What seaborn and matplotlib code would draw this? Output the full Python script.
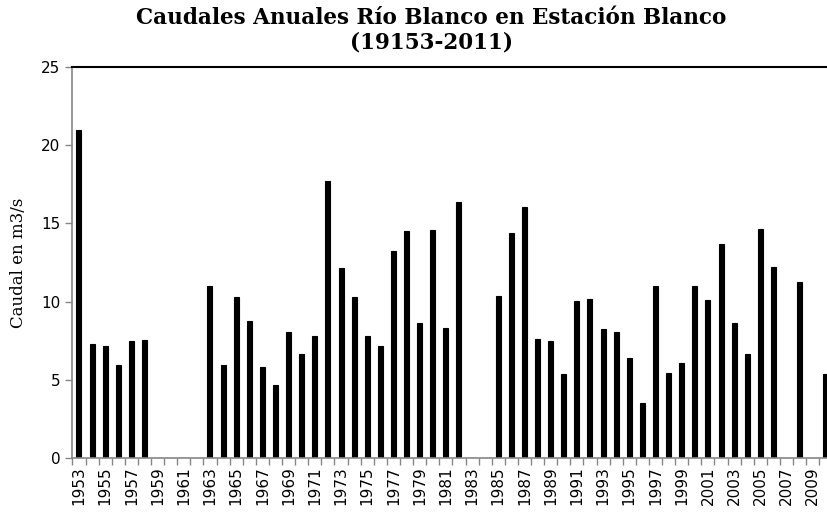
import matplotlib
matplotlib.use("Agg")
import matplotlib.pyplot as plt
import seaborn as sns
import pandas as pd
import numpy as np

# Annual flow values (0 = no data)
years = list(range(1953, 2011))
caudal = [
    21.0, 7.26, 7.15, 5.94, 7.49, 7.53,          # 1953-1958
    0, 0, 0, 0,                                  # 1959-1962
    11.02, 5.94, 10.3, 8.79, 5.79, 4.64, 8.04,   # 1963-1969
    6.66, 7.81, 17.74, 12.17, 10.3, 7.77, 7.17,  # 1970-1976
    13.23, 14.53, 8.66, 14.57, 8.34, 16.4,       # 1977-1982
    0, 0,                                        # 1983-1984
    10.38, 14.38, 16.08, 7.61, 7.45,             # 1985-1989
    5.40, 10.04, 10.19, 8.28, 8.07, 6.40, 3.53,  # 1990-1996
    11.02, 5.45, 6.08, 11.0, 10.08, 13.7, 8.66,  # 1997-2003
    6.68, 14.66, 12.19, 0, 11.23, 0, 5.40,       # 2004-2010
]

data = pd.DataFrame({'Año': [str(y) for y in years], 'Caudal': caudal})

sns.set_style("white")
plt.rcParams['text.color'] = 'black'
plt.rcParams['xtick.color'] = 'black'
plt.rcParams['ytick.color'] = 'black'

fig = plt.figure(figsize=(8.27, 5.17), dpi=100)
ax = fig.add_axes([72.4 / 827, 59 / 517, 760 / 827, 391 / 517])

sns.barplot(data=data, x='Año', y='Caudal', color='black', width=0.38,
            edgecolor='black', linewidth=0.8, saturation=1, ax=ax)

ax.set_xlim(-0.5, len(years) - 0.5)
ax.set_ylim(0, 25)
ax.set_yticks([0, 5, 10, 15, 20, 25])

# x labels every other year, tick marks at category boundaries
n = len(years)
ax.set_xticks(np.arange(0, n, 2))
ax.set_xticklabels([str(y) for y in years[::2]], rotation=90,
                   fontsize=11, family='DejaVu Sans')
ax.set_xticks(np.arange(-0.5, n, 1), minor=True)
ax.tick_params(axis='x', which='major', bottom=True, length=0, pad=6)
ax.tick_params(axis='x', which='minor', bottom=True, length=5,
               color='#868686', width=1)
ax.tick_params(axis='y', left=True, length=5, color='#868686', width=1,
               labelsize=11, labelcolor='black')

for s in ['left', 'bottom']:
    ax.spines[s].set_color('#868686')
    ax.spines[s].set_linewidth(1.2)
ax.spines['right'].set_visible(False)
ax.spines['top'].set_color('black')
ax.spines['top'].set_linewidth(1.5)

ax.set_xlabel('')
ax.set_ylabel('Caudal en m3/s', family='DejaVu Serif', fontsize=12,
              labelpad=10, color='black')

fig.text(431 / 827, 1 - 18 / 517, 'Caudales Anuales Río Blanco en Estación Blanco',
         ha='center', va='center', family='DejaVu Serif', fontweight='bold',
         fontsize=15.5, color='black')
fig.text(431 / 827, 1 - 43 / 517, '(19153-2011)',
         ha='center', va='center', family='DejaVu Serif', fontweight='bold',
         fontsize=15.5, color='black')

fig.savefig('out.png', dpi=100)
